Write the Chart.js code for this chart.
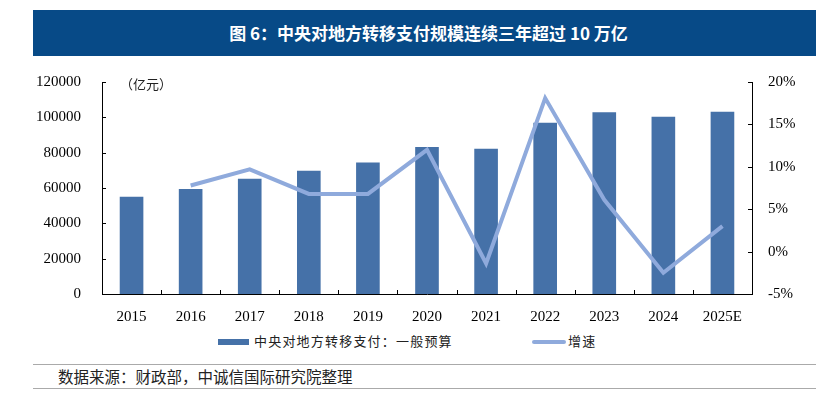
<!DOCTYPE html>
<html>
<head>
<meta charset="utf-8">
<script src="https://cdn.jsdelivr.net/npm/chart.js@4.4.1/dist/chart.umd.min.js"></script>
<style>
  body { margin: 0; width: 816px; height: 399px; background: #fff; position: relative; overflow: hidden; font-family: "Noto Sans CJK SC", sans-serif; }
  .banner { position: absolute; left: 33px; top: 10px; width: 783px; height: 46px; background: #074a87; color: #fff; font-weight: bold; font-size: 17px; line-height: 46px; text-align: center; }
  .banner span { position: relative; left: 4px; }
  .wrap { position: absolute; left: 0; top: 60px; width: 816px; height: 270px; }
  .unit { position: absolute; left: 120px; top: 74px; font-size: 13px; color: #222; }
  .legend { position: absolute; top: 331px; font-size: 13px; color: #222; letter-spacing: 1.2px; }
  .sw-bar { display: inline-block; width: 31px; height: 6px; background: #4571a8; vertical-align: middle; margin-right: 5px; }
  .sw-line { display: inline-block; width: 34px; height: 4px; border-radius: 2px; background: #8faadc; vertical-align: middle; margin-right: 2px; }
  .rule { position: absolute; left: 33px; width: 783px; height: 1px; background: #aaa; }
  .source { position: absolute; left: 58px; top: 365px; font-size: 15.5px; color: #222; }
</style>
</head>
<body>
<div class="banner"><span>图 6：中央对地方转移支付规模连续三年超过 10 万亿</span></div>
<div class="wrap"><canvas id="transferChart"></canvas></div>
<div class="unit">（亿元）</div>
<div class="legend" style="left:218px"><span class="sw-bar"></span>中央对地方转移支付：一般预算</div>
<div class="legend" style="left:532px"><span class="sw-line"></span>增速</div>
<div class="rule" style="top:364px"></div>
<div class="rule" style="top:388px"></div>
<div class="source">数据来源：财政部，中诚信国际研究院整理</div>

<script>
const years = ['2015', '2016', '2017', '2018', '2019', '2020', '2021', '2022', '2023', '2024', '2025E'];
// 亿元
const transferAmount = [55100, 59400, 65200, 69700, 74400, 83200, 82200, 96900, 102900, 100300, 103200];
// %
const growthRate = [null, 7.8, 9.7, 6.8, 6.8, 12.0, -1.4, 18.1, 6.1, -2.5, 3.0];

const serif = '"Liberation Serif", "Times New Roman", serif';
Chart.defaults.font.family = serif;
Chart.defaults.font.size = 15;
Chart.defaults.color = '#000';

// ticks pointing into the plot area, like the original
const inwardTicks = {
    id: 'inwardTicks',
    afterDraw(chart) {
        const ctx = chart.ctx;
        const area = chart.chartArea;
        const y = chart.scales.y;
        const y1 = chart.scales.y1;
        const x = chart.scales.x;
        ctx.save();
        ctx.strokeStyle = '#000';
        ctx.lineWidth = 1;
        ctx.beginPath();
        y.ticks.forEach(t => {
            const py = Math.round(y.getPixelForValue(t.value)) + 0.5;
            ctx.moveTo(area.left, py);
            ctx.lineTo(area.left + 4, py);
        });
        y1.ticks.forEach(t => {
            const py = Math.round(y1.getPixelForValue(t.value)) + 0.5;
            ctx.moveTo(area.right, py);
            ctx.lineTo(area.right - 4, py);
        });
        for (let i = 1; i < years.length; i++) {
            const px = Math.round((x.getPixelForValue(i - 1) + x.getPixelForValue(i)) / 2) + 0.5;
            ctx.moveTo(px, area.bottom);
            ctx.lineTo(px, area.bottom - 4);
        }
        ctx.stroke();
        ctx.restore();
    }
};

const ctx = document.getElementById('transferChart').getContext('2d');
new Chart(ctx, {
    data: {
        labels: years,
        datasets: [
            {
                type: 'line',
                label: '增速',
                data: growthRate,
                yAxisID: 'y1',
                borderColor: '#8faadc',
                borderWidth: 4,
                pointRadius: 0,
                tension: 0,
                order: 0
            },
            {
                type: 'bar',
                label: '中央对地方转移支付：一般预算',
                data: transferAmount,
                yAxisID: 'y',
                backgroundColor: '#4571a8',
                barPercentage: 0.4,
                categoryPercentage: 1,
                order: 1
            }
        ]
    },
    options: {
        responsive: true,
        maintainAspectRatio: false,
        animation: false,
        layout: { padding: { top: 14, left: 0, right: 0, bottom: 0 } },
        plugins: {
            legend: { display: false },
            tooltip: { enabled: false }
        },
        scales: {
            x: {
                offset: true,
                grid: { display: false },
                border: { display: true, color: '#000', width: 1 },
                ticks: { padding: 6, maxRotation: 0 },
                afterFit(scale) { scale.height = 36; }
            },
            y: {
                position: 'left',
                min: 0,
                max: 120000,
                grid: { display: false },
                border: { display: true, color: '#000', width: 1 },
                ticks: {
                    stepSize: 20000,
                    padding: 13,
                    callback: v => String(v)
                },
                afterFit(scale) { scale.width = 102; }
            },
            y1: {
                position: 'right',
                min: -5,
                max: 20,
                grid: { display: false },
                border: { display: true, color: '#000', width: 1 },
                ticks: {
                    stepSize: 5,
                    padding: 8,
                    callback: v => v + '%'
                },
                afterFit(scale) { scale.width = 64; }
            }
        }
    },
    plugins: [inwardTicks]
});
</script>
</body>
</html>
